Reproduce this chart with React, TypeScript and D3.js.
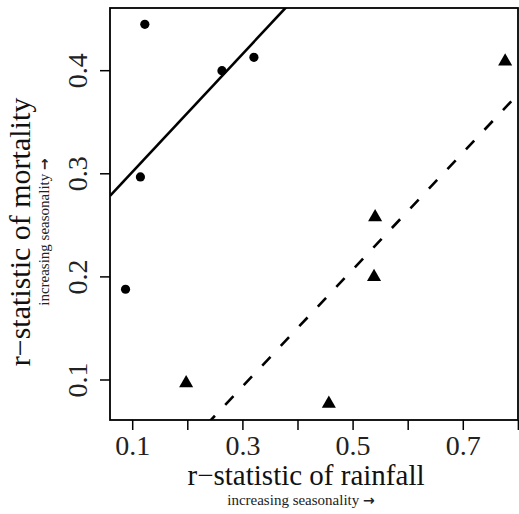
import * as d3 from "d3";

// circles: mortality vs rainfall seasonality (group 1)
const circleX = [0.087, 0.114, 0.122, 0.262, 0.32];
const circleY = [0.188, 0.297, 0.445, 0.4, 0.413];

// triangles (group 2)
const triX = [0.197, 0.456, 0.538, 0.54, 0.776];
const triY = [0.097, 0.077, 0.2, 0.258, 0.409];

// fitted lines [intercept, slope]
const solidFit = [0.245, 0.572];
const dashFit = [-0.076, 0.567];

const xTicks = [0.1, 0.2, 0.3, 0.4, 0.5, 0.6, 0.7, 0.8];
const xLabels = [0.1, 0.3, 0.5, 0.7];
const yTicks = [0.1, 0.2, 0.3, 0.4];

const W = 519;
const H = 514;
const box = { left: 110, right: 518, top: 8, bottom: 420 };
const font = "'Liberation Serif', 'Times New Roman', serif";
const arrowFont = "'DejaVu Sans', sans-serif";

export default function App() {
  const x = d3.scaleLinear().domain([0.0588, 0.7993]).range([box.left, box.right]);
  const y = d3.scaleLinear().domain([0.0612, 0.4608]).range([box.bottom, box.top]);

  const fitLine = (fit: number[]) => {
    const xs = x.domain();
    return d3.line<number>()
      .x((d) => x(d))
      .y((d) => y(fit[0] + fit[1] * d))(xs) as string;
  };

  const tri = d3.symbol(d3.symbolTriangle, 86)() as string;

  return (
    <div style={{ position: "absolute", left: 0, top: 0 }}>
      <svg width={W} height={H} style={{ display: "block", background: "#fff" }}>
        <defs>
          <clipPath id="plotclip">
            <rect x={box.left} y={box.top} width={box.right - box.left} height={box.bottom - box.top} />
          </clipPath>
        </defs>

        {/* fitted lines */}
        <g clipPath="url(#plotclip)" fill="none" stroke="#000" strokeWidth={2.6}>
          <path d={fitLine(solidFit)} />
          <path d={fitLine(dashFit)} strokeDasharray="12 15" strokeDashoffset={-6} />
        </g>

        {/* points */}
        {circleX.map((v, i) => (
          <circle key={"c" + i} cx={x(v)} cy={y(circleY[i])} r={4.6} fill="#000" />
        ))}
        {triX.map((v, i) => (
          <path key={"t" + i} d={tri} transform={`translate(${x(v)},${y(triY[i])})`} fill="#000" />
        ))}

        {/* box */}
        <rect
          x={box.left}
          y={box.top}
          width={box.right - box.left}
          height={box.bottom - box.top}
          fill="none"
          stroke="#000"
          strokeWidth={1.8}
        />

        {/* x axis */}
        {xTicks.map((t) => (
          <line key={"xt" + t} x1={x(t)} x2={x(t)} y1={box.bottom} y2={box.bottom + 10} stroke="#000" strokeWidth={1.5} />
        ))}
        {xLabels.map((t) => (
          <text key={"xl" + t} x={x(t)} y={455} textAnchor="middle" fontFamily={font} fontSize={28} fill="#222">
            {d3.format(".1f")(t)}
          </text>
        ))}

        {/* y axis */}
        {yTicks.map((t) => (
          <line key={"yt" + t} x1={box.left - 10} x2={box.left} y1={y(t)} y2={y(t)} stroke="#000" strokeWidth={1.5} />
        ))}
        {yTicks.map((t) => (
          <text
            key={"yl" + t}
            transform={`translate(87,${y(t)}) rotate(-90)`}
            textAnchor="middle"
            fontFamily={font}
            fontSize={28}
            fill="#222"
          >
            {d3.format(".1f")(t)}
          </text>
        ))}

        {/* titles */}
        <text x={306} y={485} textAnchor="middle" fontFamily={font} fontSize={29} fill="#111">
          r−statistic of rainfall
        </text>
        <text x={301} y={505} textAnchor="middle" fontFamily={font} fontSize={15} fill="#222">
          increasing seasonality{" "}
          <tspan fontFamily={arrowFont} fontWeight="bold" fontSize={14}>→</tspan>
        </text>
        <text transform="translate(30,232) rotate(-90)" textAnchor="middle" fontFamily={font} fontSize={30} fill="#111">
          r−statistic of mortality
        </text>
        <text transform="translate(49,232) rotate(-90)" textAnchor="middle" fontFamily={font} fontSize={15} fill="#222">
          increasing seasonality{" "}
          <tspan fontFamily={arrowFont} fontWeight="bold" fontSize={14}>→</tspan>
        </text>
      </svg>
    </div>
  );
}
